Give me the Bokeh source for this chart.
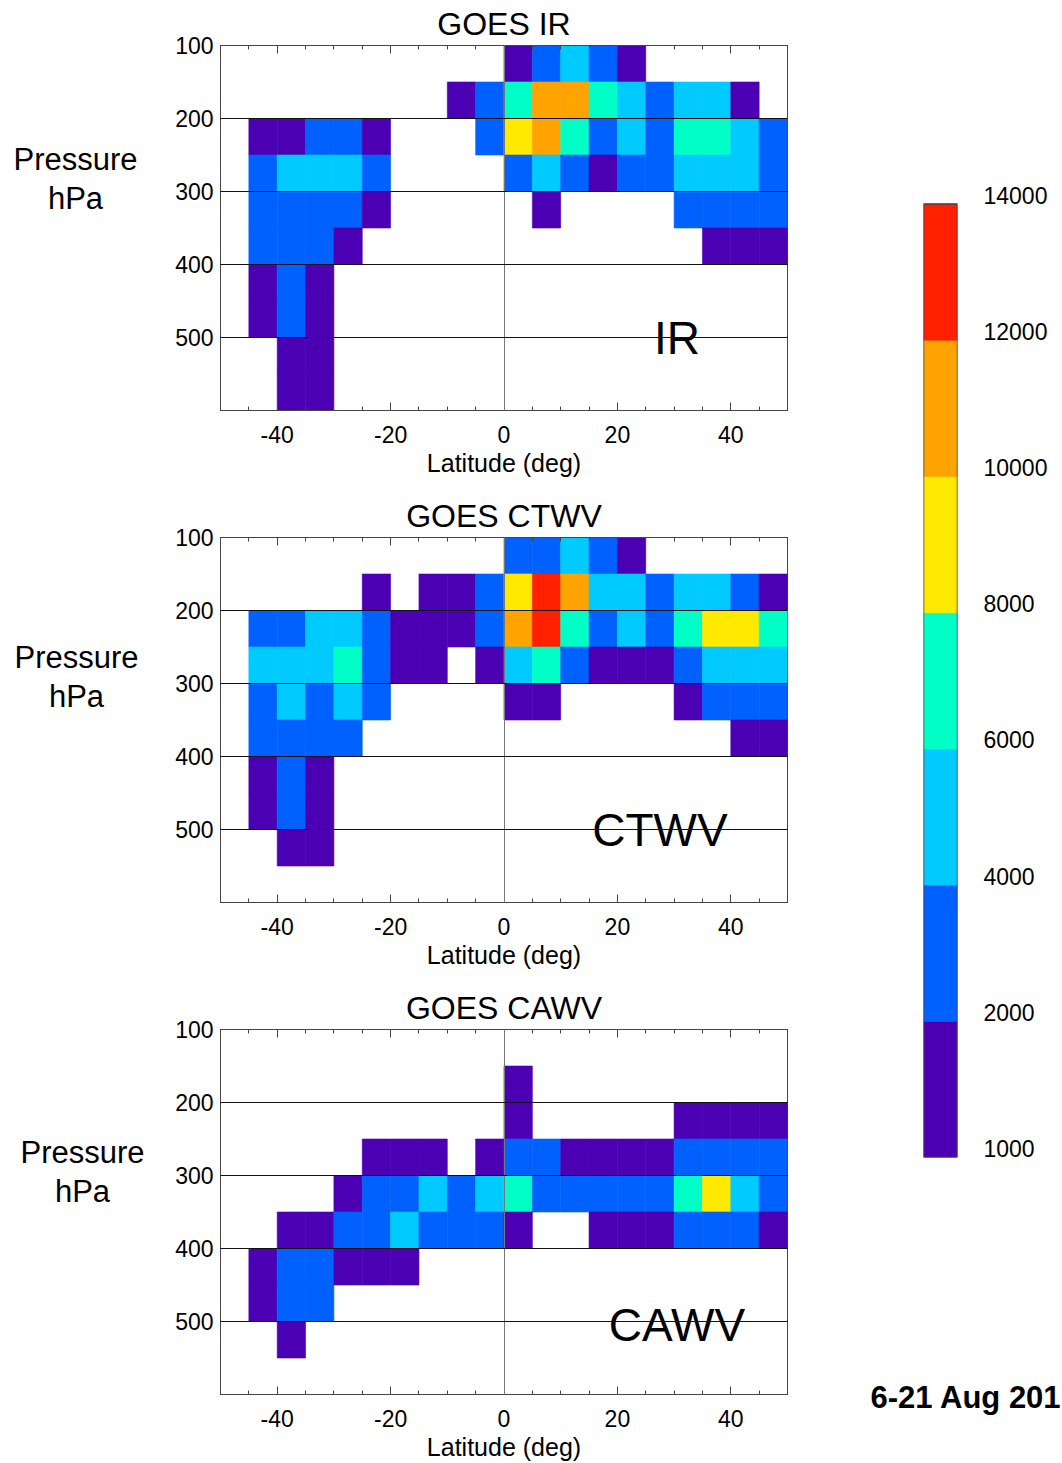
import numpy as np
from bokeh.plotting import figure
from bokeh.layouts import row, column
from bokeh.models import ColumnDataSource, Range1d, FixedTicker, LinearAxis
from bokeh.core.properties import value
from bokeh.embed import file_html
from bokeh.resources import INLINE

# ---------------- data ----------------
lat_edges = list(range(-50, 51, 5))          # 20 latitude bins
p_edges = list(range(100, 601, 50))          # 10 pressure bins (hPa)
bounds = [1000, 2000, 4000, 6000, 8000, 10000, 12000, 14000]
palette = ["#4C00B3", "#0061FF", "#00CAFF", "#00FFC6", "#FFE900", "#FFA300", "#FF2000"]
titles = ["GOES IR", "GOES CTWV", "GOES CAWV"]
tags = ["IR", "CTWV", "CAWV"]
lat_ticks = [-40, -20, 0, 20, 40]
p_ticks = [100, 200, 300, 400, 500]
ylabel = "Pressure\nhPa"
xlabel = "Latitude (deg)"
footer = "6-21 Aug 201"

# rows: 100-150, 150-200, ..., 550-600 hPa ; columns: -50..-45, ..., 45..50 deg
ir = [
    [0, 0, 0, 0, 0, 0, 0, 0, 0, 0, 1500, 3000, 5000, 3000, 1500, 0, 0, 0, 0, 0],
    [0, 0, 0, 0, 0, 0, 0, 0, 1500, 3000, 7000, 11000, 11000, 7000, 5000, 3000, 5000, 5000, 1500, 0],
    [0, 1500, 1500, 3000, 3000, 1500, 0, 0, 0, 3000, 9000, 11000, 7000, 3000, 5000, 3000, 7000, 7000, 5000, 3000],
    [0, 3000, 5000, 5000, 5000, 3000, 0, 0, 0, 0, 3000, 5000, 3000, 1500, 3000, 3000, 5000, 5000, 5000, 3000],
    [0, 3000, 3000, 3000, 3000, 1500, 0, 0, 0, 0, 0, 1500, 0, 0, 0, 0, 3000, 3000, 3000, 3000],
    [0, 3000, 3000, 3000, 1500, 0, 0, 0, 0, 0, 0, 0, 0, 0, 0, 0, 0, 1500, 1500, 1500],
    [0, 1500, 3000, 1500, 0, 0, 0, 0, 0, 0, 0, 0, 0, 0, 0, 0, 0, 0, 0, 0],
    [0, 1500, 3000, 1500, 0, 0, 0, 0, 0, 0, 0, 0, 0, 0, 0, 0, 0, 0, 0, 0],
    [0, 0, 1500, 1500, 0, 0, 0, 0, 0, 0, 0, 0, 0, 0, 0, 0, 0, 0, 0, 0],
    [0, 0, 1500, 1500, 0, 0, 0, 0, 0, 0, 0, 0, 0, 0, 0, 0, 0, 0, 0, 0],
]
ctwv = [
    [0, 0, 0, 0, 0, 0, 0, 0, 0, 0, 3000, 3000, 5000, 3000, 1500, 0, 0, 0, 0, 0],
    [0, 0, 0, 0, 0, 1500, 0, 1500, 1500, 3000, 9000, 13000, 11000, 5000, 5000, 3000, 5000, 5000, 3000, 1500],
    [0, 3000, 3000, 5000, 5000, 3000, 1500, 1500, 1500, 3000, 11000, 13000, 7000, 3000, 5000, 3000, 7000, 9000, 9000, 7000],
    [0, 5000, 5000, 5000, 7000, 3000, 1500, 1500, 0, 1500, 5000, 7000, 3000, 1500, 1500, 1500, 3000, 5000, 5000, 5000],
    [0, 3000, 5000, 3000, 5000, 3000, 0, 0, 0, 0, 1500, 1500, 0, 0, 0, 0, 1500, 3000, 3000, 3000],
    [0, 3000, 3000, 3000, 3000, 0, 0, 0, 0, 0, 0, 0, 0, 0, 0, 0, 0, 0, 1500, 1500],
    [0, 1500, 3000, 1500, 0, 0, 0, 0, 0, 0, 0, 0, 0, 0, 0, 0, 0, 0, 0, 0],
    [0, 1500, 3000, 1500, 0, 0, 0, 0, 0, 0, 0, 0, 0, 0, 0, 0, 0, 0, 0, 0],
    [0, 0, 1500, 1500, 0, 0, 0, 0, 0, 0, 0, 0, 0, 0, 0, 0, 0, 0, 0, 0],
    [0, 0, 0, 0, 0, 0, 0, 0, 0, 0, 0, 0, 0, 0, 0, 0, 0, 0, 0, 0],
]
cawv = [
    [0, 0, 0, 0, 0, 0, 0, 0, 0, 0, 0, 0, 0, 0, 0, 0, 0, 0, 0, 0],
    [0, 0, 0, 0, 0, 0, 0, 0, 0, 0, 1500, 0, 0, 0, 0, 0, 0, 0, 0, 0],
    [0, 0, 0, 0, 0, 0, 0, 0, 0, 0, 1500, 0, 0, 0, 0, 0, 1500, 1500, 1500, 1500],
    [0, 0, 0, 0, 0, 1500, 1500, 1500, 0, 1500, 3000, 3000, 1500, 1500, 1500, 1500, 3000, 3000, 3000, 3000],
    [0, 0, 0, 0, 1500, 3000, 3000, 5000, 3000, 5000, 7000, 3000, 3000, 3000, 3000, 3000, 7000, 9000, 5000, 3000],
    [0, 0, 1500, 1500, 3000, 3000, 5000, 3000, 3000, 3000, 1500, 0, 0, 1500, 1500, 1500, 3000, 3000, 3000, 1500],
    [0, 1500, 3000, 3000, 1500, 1500, 1500, 0, 0, 0, 0, 0, 0, 0, 0, 0, 0, 0, 0, 0],
    [0, 1500, 3000, 3000, 0, 0, 0, 0, 0, 0, 0, 0, 0, 0, 0, 0, 0, 0, 0, 0],
    [0, 0, 1500, 0, 0, 0, 0, 0, 0, 0, 0, 0, 0, 0, 0, 0, 0, 0, 0, 0],
    [0, 0, 0, 0, 0, 0, 0, 0, 0, 0, 0, 0, 0, 0, 0, 0, 0, 0, 0, 0],
]
grids = [ir, ctwv, cawv]

# ---------------- layout constants ----------------
tag_pos = [(30.5, 500), (27.5, 500), (30.5, 505)]       # inset label centres (lat, hPa)
ylab_pos = [(75, 283), (76, 291), (82, 295)]             # "Pressure hPa" centres (px, hPa)
FONT = "Liberation Sans"
LAB_W = 150          # width of the y-label strip
PAN_W = 710          # width of each panel figure
FRAME_L = 70         # panel frame starts at 150 + 70 = 220 px
FRAME_W = 567
AX = "#444444"
heights = [492, 492, 479]
bottoms = [82, 82, 69]


def make_label(pos, height, bottom):
    f = figure(width=LAB_W, height=height, x_range=Range1d(0, LAB_W), y_range=Range1d(600, 100),
               output_backend="svg", toolbar_location=None,
               x_axis_location=None, y_axis_location=None,
               min_border_left=0, min_border_right=0, min_border_top=45, min_border_bottom=bottom)
    f.grid.visible = False
    f.outline_line_color = None
    f.text(x=[pos[0]], y=[pos[1]], text=[ylabel], text_align="center", text_baseline="middle",
           text_font=value(FONT), text_font_size="31px", text_color="black", text_line_height=1.1)
    return f


def make_panel(grid, title, tag, tag_xy, height, bottom):
    arr = np.array(grid, dtype=float)
    ii, jj = np.nonzero(arr > 0)
    vals = arr[ii, jj]
    lvl = np.digitize(vals, bounds) - 1
    src = ColumnDataSource(dict(
        left=[lat_edges[j] for j in jj], right=[lat_edges[j + 1] for j in jj],
        top=[p_edges[i] for i in ii], bottom=[p_edges[i + 1] for i in ii],
        value=vals, color=[palette[k] for k in lvl]))

    p = figure(width=PAN_W, height=height, x_range=Range1d(-50, 50), y_range=Range1d(600, 100),
               output_backend="svg", toolbar_location=None,
               min_border_left=FRAME_L, min_border_right=PAN_W - FRAME_L - FRAME_W,
               min_border_top=45, min_border_bottom=bottom)
    p.quad(left="left", right="right", top="top", bottom="bottom", source=src,
           fill_color="color", line_color="color", line_width=0.6)

    # title
    p.title.text = title
    p.title.align = "center"
    p.title.vertical_align = "top"
    p.title.text_font = FONT
    p.title.text_font_size = "32px"
    p.title.text_font_style = "normal"
    p.title.text_color = "black"
    p.title.standoff = 3

    # x axis (bottom)
    ax = p.xaxis[0]
    ax.ticker = FixedTicker(ticks=lat_ticks, minor_ticks=lat_edges)
    ax.major_label_overrides = {t: str(t) for t in lat_ticks}
    ax.axis_label = xlabel
    ax.axis_label_text_font = FONT
    ax.axis_label_text_font_size = "25px"
    ax.axis_label_text_font_style = "normal"
    ax.axis_label_text_color = "black"
    ax.axis_label_standoff = 3
    ax.major_label_text_font = FONT
    ax.major_label_text_font_size = "23px"
    ax.major_label_text_color = "black"
    ax.major_label_standoff = 15
    ax.major_tick_in = 8
    ax.major_tick_out = 0
    ax.minor_tick_in = 4
    ax.minor_tick_out = 0
    ax.axis_line_color = AX
    ax.major_tick_line_color = AX
    ax.minor_tick_line_color = AX

    # mirrored ticks on the top edge (no labels)
    top_minor = LinearAxis(ticker=FixedTicker(ticks=[], minor_ticks=lat_edges),
                           minor_tick_in=4, minor_tick_out=0, major_tick_in=0, major_tick_out=0,
                           major_label_standoff=0, axis_label_standoff=0,
                           axis_line_color=AX, minor_tick_line_color=AX)
    top_major = LinearAxis(ticker=FixedTicker(ticks=[], minor_ticks=lat_ticks),
                           minor_tick_in=8, minor_tick_out=0, major_tick_in=0, major_tick_out=0,
                           major_label_standoff=0, axis_label_standoff=0,
                           axis_line_color=None, minor_tick_line_color=AX)
    p.add_layout(top_minor, "above")
    p.add_layout(top_major, "above")

    # y axis
    ay = p.yaxis[0]
    ay.ticker = FixedTicker(ticks=p_ticks, minor_ticks=[])
    ay.major_label_text_font = FONT
    ay.major_label_text_font_size = "23px"
    ay.major_label_text_color = "black"
    ay.major_label_standoff = 7
    ay.major_tick_in = 0
    ay.major_tick_out = 0
    ay.minor_tick_in = 0
    ay.minor_tick_out = 0
    ay.axis_line_color = AX

    # grid lines drawn on top of the cells
    p.xgrid.ticker = FixedTicker(ticks=[0])
    p.xgrid.grid_line_color = "#777777"
    p.xgrid.level = "overlay"
    p.ygrid.ticker = FixedTicker(ticks=p_ticks[1:])
    p.ygrid.grid_line_color = "#111111"
    p.ygrid.level = "overlay"

    p.outline_line_color = AX
    p.outline_line_width = 1
    p.background_fill_color = "white"
    p.border_fill_color = "white"

    p.text(x=[tag_xy[0]], y=[tag_xy[1]], text=[tag], text_align="center",
           text_baseline="middle", text_font=value(FONT), text_font_size="46px",
           text_color="black", level="overlay")
    return p


labels = [make_label(ylab_pos[k], heights[k], bottoms[k]) for k in range(3)]
panels = [make_panel(grids[k], titles[k], tags[k], tag_pos[k], heights[k], bottoms[k]) for k in range(3)]

# ---------------- colour bar ----------------
n = len(palette)
levels = list(range(n))
cb_src = ColumnDataSource(dict(bottom=levels, top=[k + 1 for k in levels], color=palette))
CB_W = 1062 - LAB_W - PAN_W
CB_H = 1370
CB_L = 63
CB_R = CB_W - CB_L - 34
cb = figure(width=CB_W, height=CB_H, x_range=Range1d(0, 1), y_range=Range1d(0, n + 0.1),
            output_backend="svg", toolbar_location=None,
            x_axis_location=None, y_axis_location="right",
            min_border_left=CB_L, min_border_right=CB_R,
            min_border_top=190, min_border_bottom=CB_H - 1157)
cb.quad(left=0, right=1, bottom="bottom", top="top", fill_color="color", line_color="color",
        line_width=0.6, source=cb_src)
cb.quad(left=[0], right=[1], bottom=[0], top=[n], fill_color=None, line_color=AX, line_width=1.5)
LBL_SHIFT = 0.066   # labels sit just above each class boundary
cb_ticks = [k + LBL_SHIFT for k in range(len(bounds))]
ya = cb.yaxis[0]
ya.ticker = FixedTicker(ticks=cb_ticks, minor_ticks=[])
ya.major_label_overrides = {t: str(b) for t, b in zip(cb_ticks, bounds)}
ya.major_label_text_font = FONT
ya.major_label_text_font_size = "23px"
ya.major_label_text_color = "black"
ya.major_label_standoff = 26
ya.major_tick_in = 0
ya.major_tick_out = 0
ya.axis_line_color = None
cb.grid.visible = False
cb.outline_line_color = None

# footer: the title of a small blank figure under the colour bar
FOOT_H = 1463 - CB_H
foot = figure(width=CB_W, height=FOOT_H, x_range=Range1d(0, 1), y_range=Range1d(0, 1),
              output_backend="svg", toolbar_location=None,
              x_axis_location=None, y_axis_location=None,
              min_border_left=CB_L, min_border_right=CB_R, min_border_top=44, min_border_bottom=0)
foot.grid.visible = False
foot.outline_line_color = None
foot.title.text = footer
foot.title.align = "left"
foot.title.offset = -53
foot.title.standoff = 0
foot.title.text_font = FONT
foot.title.text_font_size = "31px"
foot.title.text_font_style = "bold"
foot.title.text_color = "black"

layout = row(column(*labels), column(*panels), column(cb, foot))
html = file_html(layout, INLINE, title="GOES")
open("out.html", "w").write(html)
